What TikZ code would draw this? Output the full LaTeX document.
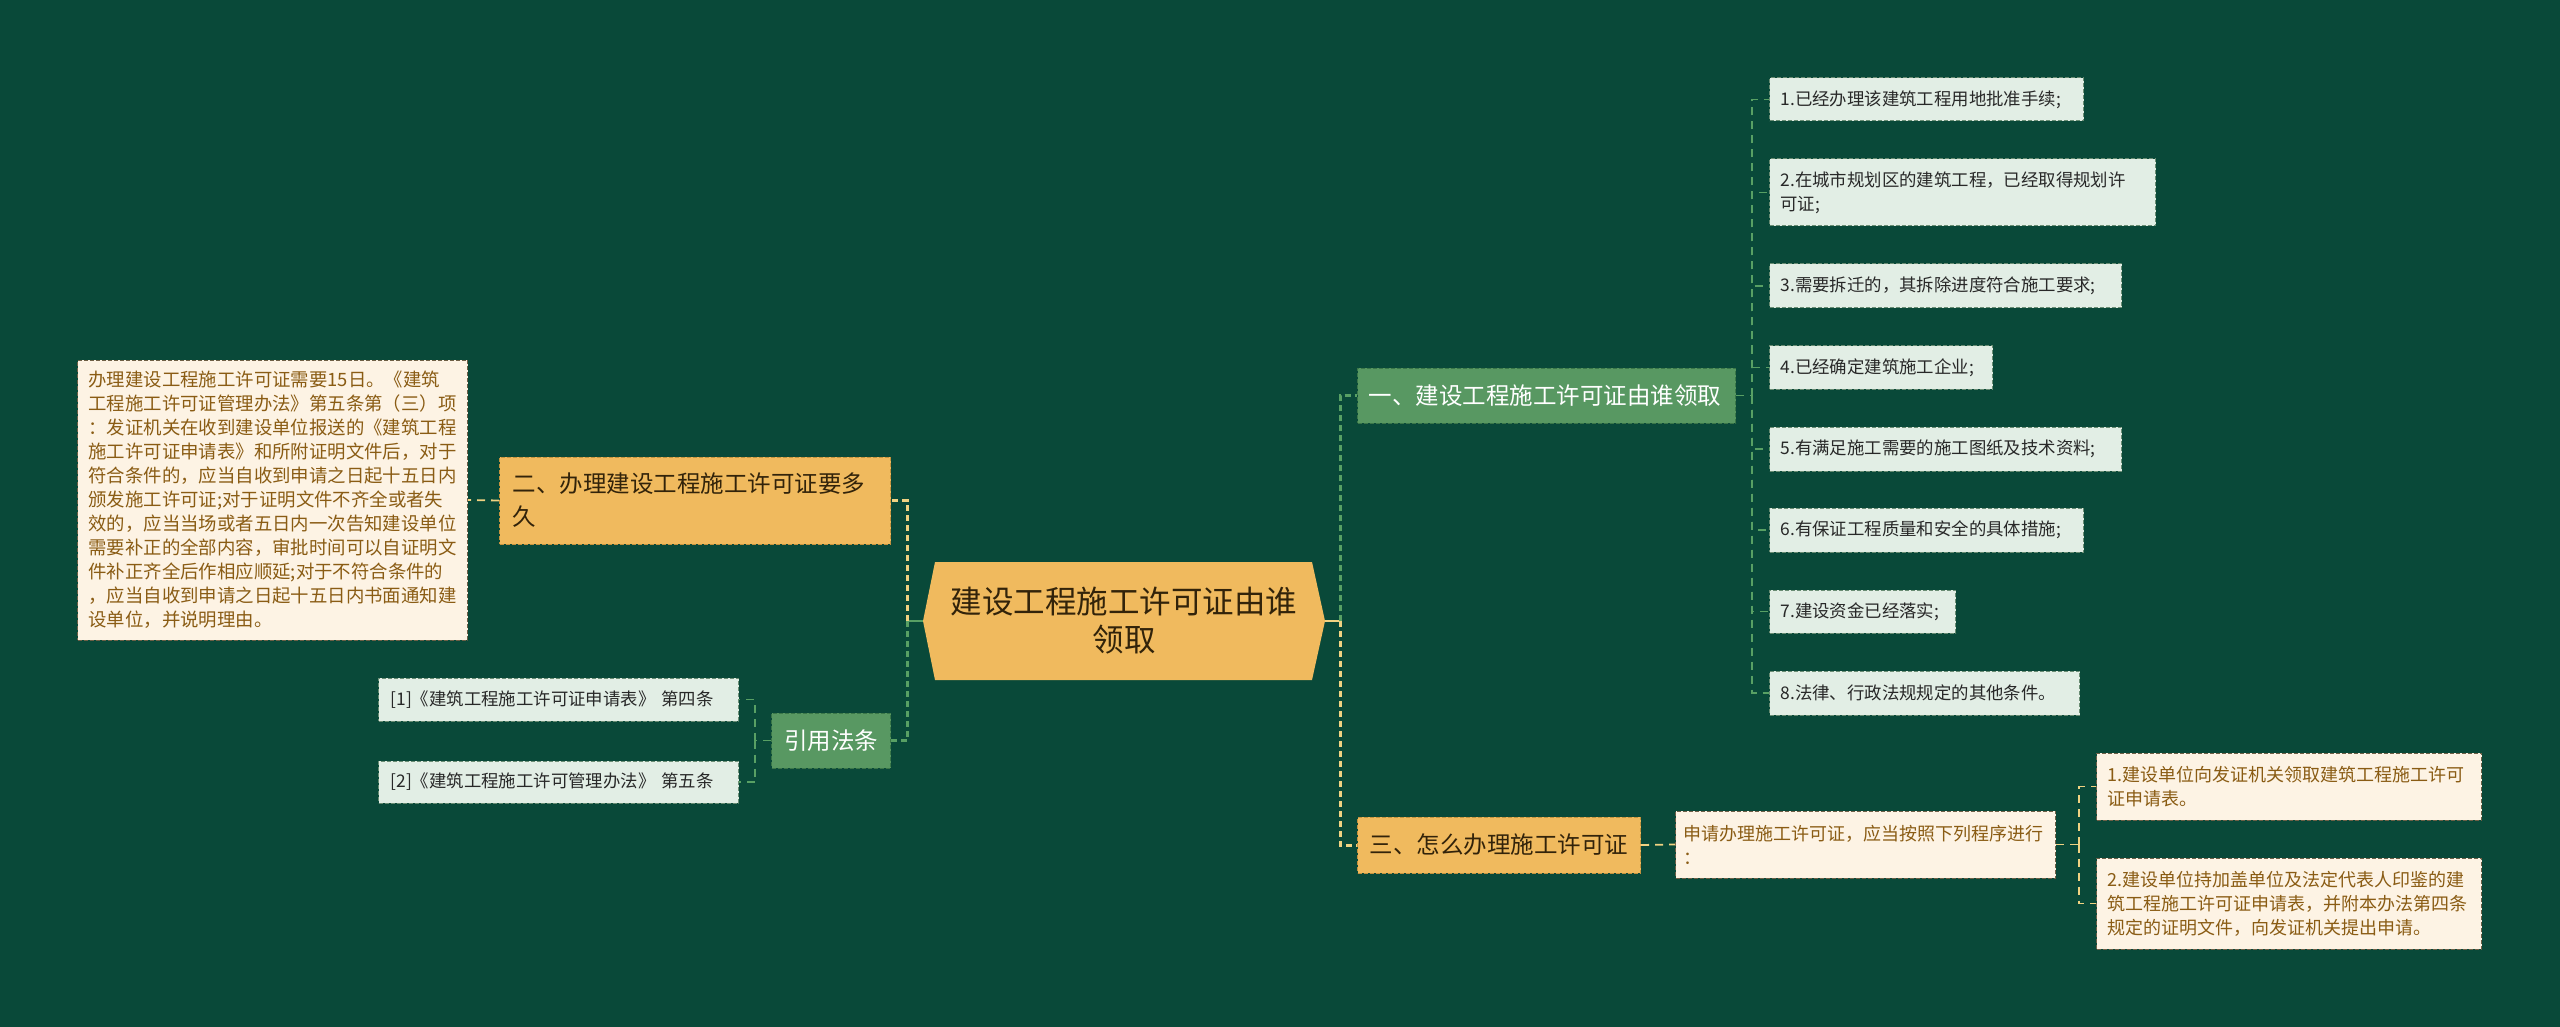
\documentclass[tikz,border=0pt]{standalone}
\usepackage{fontspec}
\newfontfamily\cjk{Noto Sans CJK SC}
\definecolor{bgc}{RGB}{9,73,57}
\definecolor{orf}{RGB}{240,186,94}
\definecolor{ord}{RGB}{196,146,62}
\definecolor{grf}{RGB}{88,152,98}
\definecolor{grd}{RGB}{58,118,72}
\definecolor{ltf}{RGB}{226,238,229}
\definecolor{ltd}{RGB}{105,140,115}
\definecolor{crf}{RGB}{253,243,228}
\definecolor{crd}{RGB}{110,95,70}
\definecolor{yline}{RGB}{240,210,130}
\definecolor{gline}{RGB}{88,160,100}
\definecolor{brtx}{RGB}{138,92,20}
\definecolor{dktx}{RGB}{40,40,40}
\definecolor{ortx}{RGB}{50,35,10}
\tikzset{
  basebox/.style={rectangle, anchor=west, inner xsep=5.5pt, inner ysep=0pt, align=left, dash pattern=on 2pt off 1pt, line width=0.5pt},
  lightbox/.style={basebox, fill=ltf, draw=ltd, text=dktx, font=\cjk\fontsize{8.7}{12}\selectfont},
  creambox/.style={basebox, fill=crf, draw=crd, text=brtx, font=\cjk\fontsize{9}{12}\selectfont},
  orbox/.style={basebox, fill=orf, draw=ord, text=ortx, font=\cjk\fontsize{11.75}{16.5}\selectfont},
  grbox/.style={basebox, fill=grf, draw=grd, text=white, font=\cjk\fontsize{11.75}{16.5}\selectfont},
  ymain/.style={draw=yline, line width=1.5pt, dash pattern=on 3pt off 2pt},
  gmain/.style={draw=gline, line width=1.5pt, dash pattern=on 3pt off 2pt},
  ysub/.style={draw=yline, line width=0.9pt, dash pattern=on 4pt off 3pt},
  gsub/.style={draw=gline, line width=0.9pt, dash pattern=on 4pt off 3pt},
}
\begin{document}
\begin{tikzpicture}[x=0.5pt,y=-0.5pt]
\fill[bgc] (0,0) rectangle (2560,1027);
\useasboundingbox (0,0) rectangle (2560,1027);

% central node
\fill[orf] (923,621) -- (935,562) -- (1312,562) -- (1325,621) -- (1312,680) -- (935,680) -- cycle;
\node[inner sep=0pt, minimum width=201pt, minimum height=59pt, align=center, text=ortx,
  font=\cjk\fontsize{15.75}{19}\selectfont] (root) at (1124,621) {建设工程施工许可证由谁\\领取};

% right upper branch
\node[grbox, text width=178pt, minimum height=27.5pt] (b1) at (1357,395.5) {一、建设工程施工许可证由谁领取};
\node[lightbox, text width=146pt, minimum height=21.5pt] (c1) at (1769,99.5) {1.已经办理该建筑工程用地批准手续;};
\node[lightbox, text width=182pt, minimum height=33.5pt] (c2) at (1769,192.5) {2.在城市规划区的建筑工程，已经取得规划许\\可证;};
\node[lightbox, text width=165pt, minimum height=22pt] (c3) at (1769,286) {3.需要拆迁的，其拆除进度符合施工要求;};
\node[lightbox, text width=100.5pt, minimum height=21.5pt] (c4) at (1769,367.5) {4.已经确定建筑施工企业;};
\node[lightbox, text width=165pt, minimum height=22pt] (c5) at (1769,449) {5.有满足施工需要的施工图纸及技术资料;};
\node[lightbox, text width=146pt, minimum height=22pt] (c6) at (1769,530) {6.有保证工程质量和安全的具体措施;};
\node[lightbox, text width=82pt, minimum height=21.5pt] (c7) at (1769,611.5) {7.建设资金已经落实;};
\node[lightbox, text width=144pt, minimum height=22pt] (c8) at (1769,693) {8.法律、行政法规规定的其他条件。};

% right lower branch
\node[orbox, text width=130.5pt, minimum height=28pt, align=center] (b3) at (1357,845) {三、怎么办理施工许可证};
\node[creambox, text width=182pt, minimum height=33.5pt, inner xsep=4pt] (t3) at (1675,844.5) {申请办理施工许可证，应当按照下列程序进行\\：};
\node[creambox, text width=181.5pt, minimum height=33.5pt] (d1) at (2096,786.5) {1.建设单位向发证机关领取建筑工程施工许可\\证申请表。};
\node[creambox, text width=181.5pt, minimum height=45.5pt] (d2) at (2096,903.5) {2.建设单位持加盖单位及法定代表人印鉴的建\\筑工程施工许可证申请表，并附本办法第四条\\规定的证明文件，向发证机关提出申请。};

% left upper branch
\node[orbox, text width=182.5pt, inner xsep=6.5pt, minimum height=43.5pt] (b2) at (499,500.5) {二、办理建设工程施工许可证要多\\久};
\node[creambox, text width=184pt, minimum height=140pt, font=\cjk\fontsize{9.2}{12}\selectfont] (t2) at (77,500) {办理建设工程施工许可证需要15日。《建筑\\工程施工许可证管理办法》第五条第（三）项\\：发证机关在收到建设单位报送的《建筑工程\\施工许可证申请表》和所附证明文件后，对于\\符合条件的，应当自收到申请之日起十五日内\\颁发施工许可证;对于证明文件不齐全或者失\\效的，应当当场或者五日内一次告知建设单位\\需要补正的全部内容，审批时间可以自证明文\\件补正齐全后作相应顺延;对于不符合条件的\\，应当自收到申请之日起十五日内书面通知建\\设单位，并说明理由。};

% left lower branch
\node[grbox, text width=48.5pt, minimum height=27.5pt, align=center] (b4) at (771,740.5) {引用法条};
\node[lightbox, text width=168pt, inner xsep=6pt, minimum height=21.5pt] (r1) at (378,699.5) {[1]《建筑工程施工许可证申请表》 第四条};
\node[lightbox, text width=168pt, inner xsep=6pt, minimum height=21pt] (r2) at (378,782) {[2]《建筑工程施工许可管理办法》 第五条};

% connector junctions
\coordinate (jl) at (907,621);
\coordinate (jr) at (1340,621);
\coordinate (jb1) at (1752,395.5);
\coordinate (jb3) at (2079,844.5);
\coordinate (jb4) at (755,740.5);

% central connectors
\draw[gline, line width=1.2pt] (root.west) -- (jl);
\draw[yline, line width=1.2pt] (root.east) -- (jr);
\draw[ymain] (jl) |- (b2.east);
\draw[gmain] (jl) |- (b4.east);
\draw[gmain] (jr) |- (b1.west);
\draw[ymain] (jr) |- (b3.west);

% branch connectors
\draw[gsub] (b1.east) -- (jb1);
\foreach \c in {c1,c2,c3,c4,c5,c6,c7,c8} \draw[gsub] (jb1) |- (\c.west);
\draw[ysub] (b2.west) -- (t2.east);
\draw[ysub] (b3.east) -- (t3.west);
\draw[ysub] (t3.east) -- (jb3);
\foreach \c in {d1,d2} \draw[ysub] (jb3) |- (\c.west);
\draw[gsub] (b4.west) -- (jb4);
\foreach \c in {r1,r2} \draw[gsub] (jb4) |- (\c.east);
\end{tikzpicture}
\end{document}
